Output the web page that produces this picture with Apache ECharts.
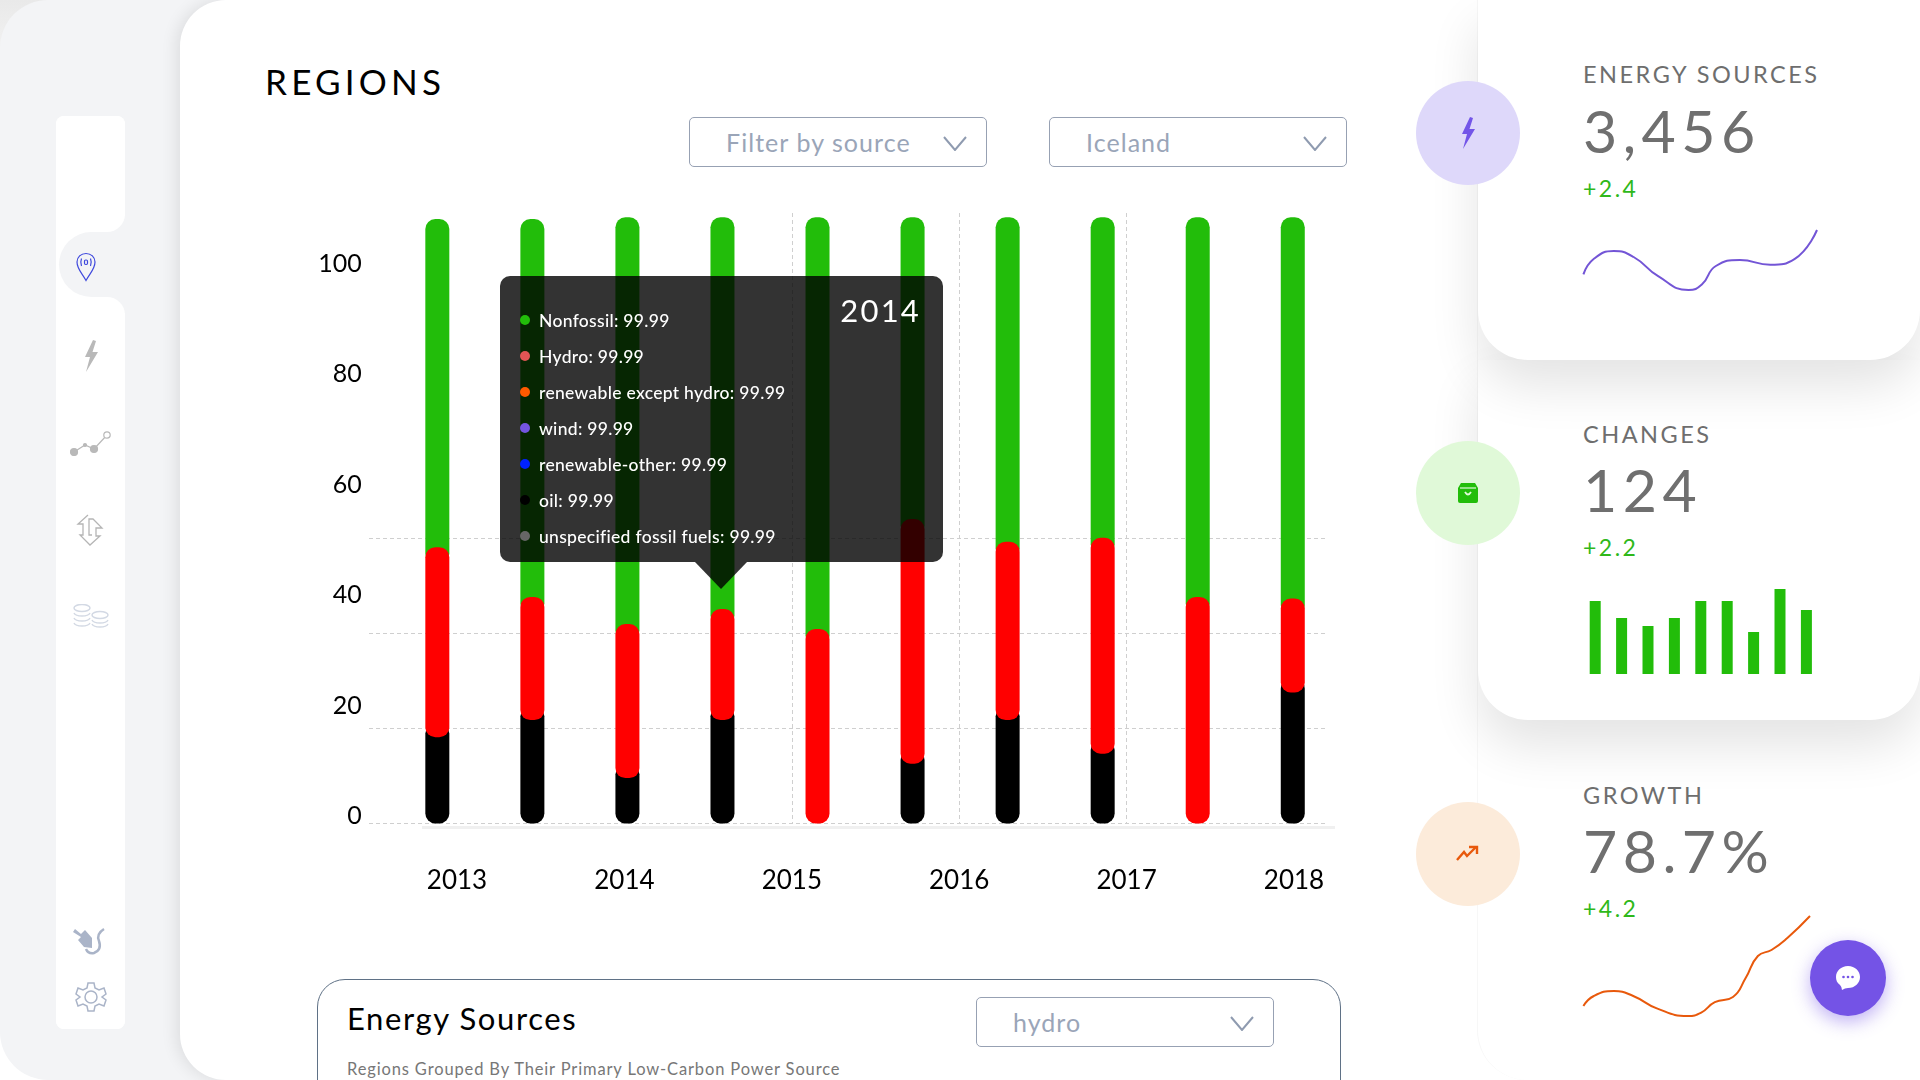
<!DOCTYPE html>
<html>
<head>
<meta charset="utf-8">
<title>Regions</title>
<script src="https://cdn.jsdelivr.net/npm/echarts@6/dist/echarts.min.js"></script>
<style>
html,body{margin:0;padding:0;width:1920px;height:1080px;overflow:hidden;background:linear-gradient(#e9e9e9,#fff 12%);font-family:Lato,sans-serif;}
div,svg{position:absolute;box-sizing:border-box;}
.txt{white-space:nowrap;line-height:1;}
.side{left:0;top:0;width:260px;height:1080px;background:#f3f4f6;border-radius:48px 0 0 48px;}
.main{left:180px;top:0;width:1740px;height:1080px;background:#fff;border-radius:46px 0 0 46px;box-shadow:-4px 0 16px rgba(0,0,0,.09);}
.strip{background:#fff;left:56px;width:69px;}
.card{left:1478px;width:442px;background:#fff;border-radius:0 0 50px 50px;box-shadow:0 26px 50px rgba(0,0,0,.11);}
.drop{top:117px;height:50px;width:298px;border:1.5px solid #97a1b3;border-radius:5px;background:#fff;}
.drop .txt{top:12px;font-size:25px;letter-spacing:1.05px;color:#9aa5b8;}
.drop svg{top:18px;width:24px;height:15px;}
.circle{left:1416px;width:104px;height:104px;border-radius:52px;}
.lab{left:1583px;font-size:23.5px;letter-spacing:2.5px;color:#6e6e6e;}
.num{left:1583px;font-size:59px;letter-spacing:5.5px;color:#6f6f6f;}
.chg{left:1583px;font-size:23px;letter-spacing:2.5px;color:#2fb81a;}
#chart{left:0;top:0;width:1920px;height:1080px;}
</style>
</head>
<body>
<div class="side"></div>
<div class="strip" style="top:116px;height:913px;border-radius:8px;"></div>
<div style="left:104px;top:216px;width:21px;height:97px;background:#f3f4f6;"></div>
<div class="strip" style="top:116px;height:116px;border-radius:8px 8px 18px 0;"></div>
<div class="strip" style="top:297px;height:732px;border-radius:0 18px 8px 8px;"></div>
<div style="left:59px;top:232px;width:66px;height:65px;background:#f3f4f6;border-radius:33px 0 0 33px;"></div>

<svg style="left:75px;top:252px;width:22px;height:30px;" viewBox="0 0 22 30" fill="none" stroke="#3f49dd" stroke-width="1.200"><path d="M11 28.500C7 21 2 17 2 10C2 5 6 1.500 11 1.500S20 5 20 10C20 17 15 21 11 28.500Z"/><rect x="9.500" y="8" width="3" height="4.500" rx="1.200"/><path d="M6.500 6.500Q5 10.500 6.500 14M15.500 6.500Q17 10.500 15.500 14"/></svg>
<svg style="left:83px;top:340px;width:16px;height:32px;" viewBox="0 0 16 32" fill="#b9b9b9"><path d="M10 0L2 17H7L3 32L15 12H9.500L13 1Z"/></svg>
<svg style="left:70px;top:430px;width:42px;height:26px;" viewBox="0 0 42 26" fill="#b9b9b9" stroke="#b9b9b9" stroke-width="1.200"><path fill="none" d="M4 22L15 15L24 19L37 5"/><circle cx="4" cy="22" r="3.500"/><circle cx="24" cy="19" r="3.500"/><circle cx="15" cy="15" r="1.500"/><circle cx="37" cy="5" r="3.200" fill="#fff"/></svg>
<svg style="left:76px;top:514px;width:29px;height:32px;" viewBox="0 0 29 32" fill="none" stroke="#b5b5b5" stroke-width="1.300"><path d="M12 1L2 10H7V21H4L14 31L24 22H20V14H26L17 5H13V21H16"/></svg>
<svg style="left:72px;top:604px;width:38px;height:24px;" viewBox="0 0 38 24" fill="none" stroke="#d3d9e4" stroke-width="1.500"><ellipse cx="10" cy="4" rx="8" ry="3.500"/><path d="M2 9C4 13 16 13 18 9M2 14C4 18 16 18 18 14M2 19C4 23 16 23 18 19"/><ellipse cx="28" cy="11" rx="8" ry="3.500"/><path d="M20 16C22 20 34 20 36 16M20 20C22 24 34 24 36 20"/></svg>
<svg style="left:72px;top:926px;width:34px;height:30px;" viewBox="0 0 34 30" fill="#aab4c8"><path d="M3 3L9 8L13 4L20 12V22L12 21L6 14L9 11L1 6Z"/><path fill="none" stroke="#aab4c8" stroke-width="2.500" d="M32 3Q24 8 27 15Q30 24 22 27Q16 28 14 23"/></svg>
<svg style="left:75px;top:981px;width:32px;height:32px;" viewBox="0 0 32 32" fill="none" stroke="#aab4c8" stroke-width="1.500"><circle cx="16" cy="16" r="6"/><path d="M13 2H19L20 7L24 9L29 7L31 13L27 16L31 19L29 25L24 23L20 25L19 30H13L12 25L8 23L3 25L1 19L5 16L1 13L3 7L8 9L12 7Z"/></svg>

<div class="main"></div>
<div class="txt" style="left:265px;top:64px;font-size:35px;letter-spacing:4.2px;color:#000;">REGIONS</div>

<div class="drop" style="left:689px;"><div class="txt" style="left:36px;">Filter by source</div><svg style="left:253px;" viewBox="0 0 24 15" fill="none" stroke="#8f9bb0" stroke-width="2"><path d="M1 1L12 14L23 1"/></svg></div>
<div class="drop" style="left:1049px;"><div class="txt" style="left:36px;">Iceland</div><svg style="left:253px;" viewBox="0 0 24 15" fill="none" stroke="#8f9bb0" stroke-width="2"><path d="M1 1L12 14L23 1"/></svg></div>

<div style="left:422px;top:826px;width:913px;height:3px;background:#f0f0f0;"></div>

<div style="left:317px;top:979px;width:1024px;height:160px;border:1.5px solid #5f7186;border-radius:28px;background:#fff;"></div>
<div class="txt" style="left:347px;top:1003px;font-size:31px;letter-spacing:1.6px;color:#000;">Energy Sources</div>
<div class="txt" style="left:347px;top:1061px;font-size:16.500px;letter-spacing:.86px;color:#777;">Regions Grouped By Their Primary Low-Carbon Power Source</div>
<div class="drop" style="left:976px;top:997px;"><div class="txt" style="left:36px;">hydro</div><svg style="left:253px;" viewBox="0 0 24 15" fill="none" stroke="#8f9bb0" stroke-width="2"><path d="M1 1L12 14L23 1"/></svg></div>

<div style="left:1477px;top:0;width:443px;height:1080px;background:#fff;border-left:1px solid #f7f7f7;border-radius:0 0 0 50px;"></div>
<div class="card" style="top:360px;height:360px;"></div>
<div class="card" style="top:0;height:360px;"></div>

<div class="circle" style="top:81px;background:#ded8fa;"></div>
<svg style="left:1460px;top:117px;width:16px;height:32px;" viewBox="0 0 16 32" fill="#7355e8"><path d="M10 0L2 17H7L3 32L15 12H9.500L13 1Z"/></svg>
<div class="circle" style="top:441px;background:#e0f9d8;"></div>
<svg style="left:1457px;top:482px;width:22px;height:22px;" viewBox="0 0 22 22"><path fill="#22bd0a" d="M4 1H18L21 6V19Q21 21 19 21H3Q1 21 1 19V6Z"/><path fill="none" stroke="#e0f9d8" stroke-width="1.800" d="M8 10Q11 15 14 10"/><path stroke="#e0f9d8" stroke-width="1.200" d="M3 6H19"/></svg>
<div class="circle" style="top:802px;background:#fcebda;"></div>
<svg style="left:1456px;top:844px;width:24px;height:18px;" viewBox="0 0 24 18" fill="none" stroke="#e8590c" stroke-width="2.400"><path d="M1 16L8 8L11 12L20 3"/><path d="M13 3H21V10"/></svg>

<div class="txt lab" style="top:63px;">ENERGY SOURCES</div>
<div class="txt num" style="top:101px;">3,456</div>
<div class="txt chg" style="top:177px;">+2.4</div>
<div class="txt lab" style="top:423px;">CHANGES</div>
<div class="txt num" style="top:460px;">124</div>
<div class="txt chg" style="top:536px;">+2.2</div>
<div class="txt lab" style="top:784px;">GROWTH</div>
<div class="txt num" style="top:821px;">78.7%</div>
<div class="txt chg" style="top:897px;">+4.2</div>

<div id="chart"></div>

<div style="left:1810px;top:940px;width:76px;height:76px;border-radius:38px;background:#7453e6;box-shadow:0 6px 18px rgba(116,83,230,.45);"></div>
<svg style="left:1835px;top:965px;width:26px;height:26px;" viewBox="0 0 26 26"><path fill="#fff" d="M13 1C20 1 25 6 25 12C25 18 20 23 13 23Q10 23 7 25Q7 22 5 20C2 18 1 15 1 12C1 6 6 1 13 1Z"/><circle cx="8.500" cy="12" r="1.300" fill="#7453e6"/><circle cx="13" cy="12" r="1.300" fill="#7453e6"/><circle cx="17.500" cy="12" r="1.300" fill="#7453e6"/></svg>

<script>
var fontName = "Lato";

// main chart, values read against the 0-100 axis
var slots = ["P1", "P2", "P3", "P4", "P5", "P6", "P7", "P8", "P9", "P10"];
var nonfossilTop = [109.4, 109.4, 109.7, 109.7, 109.7, 109.7, 109.7, 109.7, 109.7, 109.7];
var nonfossilBottom = [47, 38, 33.1, 35.8, 32.2, 52.1, 48, 48.7, 38, 37.7];
var hydroTop = [50.0, 41.0, 36.1, 38.8, 35.2, 55.1, 51.0, 51.7, 41.0, 40.7];
var hydroBottom = [15.6, 18.7, 8.2, 18.7, 0, 10.8, 18.7, 12.6, 0, 23.7];
var oilTop = [18.1, 21.2, 10.7, 21.2, 0, 13.3, 21.2, 15.1, 0, 26.2];
var years = ["2013", "2014", "2015", "2016", "2017", "2018"];
var guideLevels = ["0", "1", "2", "3"];

// tooltip rows
var tipTitle = "2014";
var tipNames = ["Nonfossil", "Hydro", "renewable except hydro", "wind", "renewable-other", "oil", "unspecified fossil fuels"];
var tipColors = ["#22bd0a", "#e05555", "#ff5a00", "#7355e0", "#0022ff", "#000000", "#666666"];
var tipValues = ["99.99", "99.99", "99.99", "99.99", "99.99", "99.99", "99.99"];

// small charts on the right
var sourcesX = [0, 4.5, 13, 21.5, 32, 45, 50.7, 56.7, 67, 80, 90.5, 100];
var sourcesY = [26, 52, 65, 55, 23, 0, 9, 40, 50, 42, 52, 100];
var changesCats = ["1", "2", "3", "4", "5", "6", "7", "8", "9"];
var changesValues = [73, 56, 48, 56, 73, 73, 42, 85, 64];
var growthX = [0, 4.6, 13.5, 22, 32.4, 46, 52, 58, 66, 71.6, 77, 83, 90, 100];
var growthY = [10, 20, 25, 20, 7.6, 0, 3.4, 13.8, 19, 38, 60, 66, 78, 100];

function pairs(xs, ys) {
	var out = [];
	for (var i = 0; i < xs.length; i++) {
		out.push([xs[i], ys[i]]);
	}
	return out;
}

function tipHtml() {
	var h = '<div class="txt" style="right:22px;top:19px;font-size:31px;letter-spacing:2.2px;font-family:Lato;color:#fff;">' + tipTitle + '</div>';
	for (var i = 0; i < tipNames.length; i++) {
		var y = 36 + i * 36;
		h += '<div style="left:20px;top:' + (y + 3) + 'px;width:10px;height:10px;border-radius:5px;background:' + tipColors[i] + ';"></div>';
		h += '<div class="txt" style="left:39px;top:' + y + 'px;font-family:Lato;font-size:17.500px;font-weight:500;letter-spacing:.3px;color:#fff;">' + tipNames[i] + ': ' + tipValues[i] + '</div>';
	}
	h += '<div style="left:195px;top:286px;width:0;height:0;border-left:26px solid transparent;border-right:26px solid transparent;border-top:27px solid rgba(0,0,0,.8);"></div>';
	return h;
}

var dashed = { color: "#cfcfcf", type: [4, 3], width: 1 };

var option = {
	animation: false,
	tooltip: {
		trigger: "item",
		alwaysShowContent: true,
		transitionDuration: 0,
		position: [500, 276],
		padding: 0,
		borderWidth: 0,
		backgroundColor: "rgba(0,0,0,.8)",
		extraCssText: "width:443px;height:286px;border-radius:10px;box-shadow:none;",
		formatter: tipHtml
	},
	grid: [
		{ left: 389.8, top: 215.65, width: 950.5, height: 607.75 },
		{ left: 369, top: 538, width: 956, height: 285.4 },
		{ left: 457, top: 213, width: 837, height: 610.4 },
		{ left: 1583.4, top: 230, width: 233.6, height: 60 },
		{ left: 1582, top: 574, width: 237.6, height: 100 },
		{ left: 1583.4, top: 916, width: 226.6, height: 100 }
	],
	xAxis: [
		{ gridIndex: 0, type: "category", data: slots, show: false },
		{ gridIndex: 1, type: "category", data: guideLevels, show: false },
		{
			gridIndex: 2, type: "category", data: years, boundaryGap: false,
			axisLine: { show: false }, axisTick: { show: false },
			axisLabel: { margin: 44, fontFamily: fontName, fontSize: 26, color: "#000", interval: 0 },
			splitLine: { show: true, lineStyle: dashed, interval: function (i) { return i >= 2 && i <= 4; } }
		},
		{ gridIndex: 3, type: "value", min: 0, max: 100, show: false },
		{ gridIndex: 4, type: "category", data: changesCats, show: false },
		{ gridIndex: 5, type: "value", min: 0, max: 100, show: false }
	],
	yAxis: [
		{
			gridIndex: 0, type: "value", min: 0, max: 110, interval: 20,
			axisLine: { show: false }, axisTick: { show: false }, splitLine: { show: false },
			axisLabel: { margin: 28, showMaxLabel: false, verticalAlign: "bottom", lineHeight: 14, fontFamily: fontName, fontSize: 25, color: "#000" }
		},
		{
			gridIndex: 1, type: "value", min: 0, max: 3, interval: 1,
			axisLine: { show: false }, axisTick: { show: false }, axisLabel: { show: false },
			splitLine: { show: true, lineStyle: dashed }
		},
		{ gridIndex: 2, type: "value", min: 0, max: 1, show: false },
		{ gridIndex: 3, type: "value", min: 0, max: 100, show: false },
		{ gridIndex: 4, type: "value", min: 0, max: 100, show: false },
		{ gridIndex: 5, type: "value", min: 0, max: 100, show: false }
	],
	series: [
		{
			name: "nonfossilBase", type: "bar", stack: "nonfossil", data: nonfossilBottom, barWidth: 24, barGap: "-100%", silent: true,
			itemStyle: { color: "transparent" }
		},
		{
			name: "Nonfossil", type: "bar", stack: "nonfossil", barWidth: 24, barGap: "-100%",
			data: nonfossilTop.map(function (v, i) { return v - nonfossilBottom[i]; }),
			itemStyle: { color: "#22bd0a", borderRadius: 10 }
		},
		{
			name: "oil", type: "bar", data: oilTop, barWidth: 24, barGap: "-100%",
			itemStyle: { color: "#000", borderRadius: 10 }
		},
		{
			name: "hydroBase", type: "bar", stack: "hydro", data: hydroBottom, barWidth: 24, barGap: "-100%", silent: true,
			itemStyle: { color: "transparent" }
		},
		{
			name: "Hydro", type: "bar", stack: "hydro", barWidth: 24, barGap: "-100%",
			data: hydroTop.map(function (v, i) { return v - hydroBottom[i]; }),
			itemStyle: { color: "#ff0000", borderRadius: 10 }
		},
		{
			name: "sources", type: "line", xAxisIndex: 3, yAxisIndex: 3, data: pairs(sourcesX, sourcesY),
			smooth: 0.5, showSymbol: false, silent: true, lineStyle: { color: "#7355d6", width: 2 }
		},
		{
			name: "changes", type: "bar", xAxisIndex: 4, yAxisIndex: 4, data: changesValues,
			barWidth: 11, silent: true, itemStyle: { color: "#22bd0a" }
		},
		{
			name: "growth", type: "line", xAxisIndex: 5, yAxisIndex: 5, data: pairs(growthX, growthY),
			smooth: 0.5, showSymbol: false, silent: true, lineStyle: { color: "#e8590c", width: 2 }
		}
	]
};

var myChart = echarts.init(document.getElementById("chart"), null, { renderer: "canvas" });
myChart.setOption(option);
myChart.dispatchAction({ type: "showTip", seriesIndex: 1, dataIndex: 3 });
</script>
</body>
</html>
